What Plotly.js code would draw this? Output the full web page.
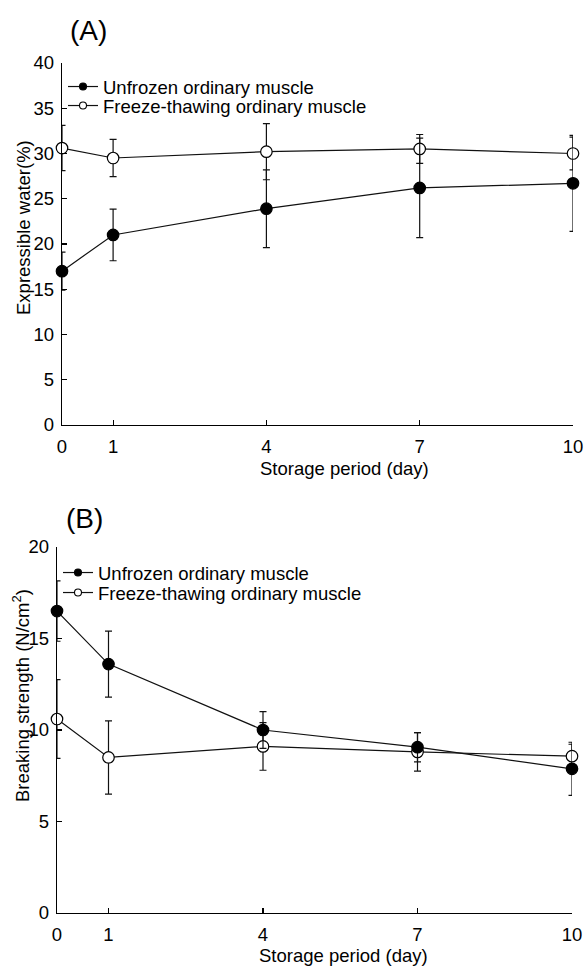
<!DOCTYPE html>
<html><head><meta charset="utf-8">
<script src="https://cdn.plot.ly/plotly-3.0.1.min.js"></script>
<style>html,body{margin:0;padding:0;background:#fff}</style>
</head><body><div id="chart" style="width:585px;height:966px"></div>
<script>
// ---- data ----
const days = [0, 1, 4, 7, 10];
const tickDays = [0, 1, 4, 7, 10];
const seriesNames = ['Unfrozen ordinary muscle', 'Freeze-thawing ordinary muscle'];
// (A) Expressible water (%)
const waterUnfrozen    = [17.0, 21.0, 23.9, 26.2, 26.7];
const waterUnfrozenErr = [2.1, 2.85, 4.3, 5.5, 5.3];
const waterFreeze      = [30.6, 29.5, 30.2, 30.5, 30.0];
const waterFreezeErr   = [2.5, 2.05, 3.1, 1.6, 1.8];
// (B) Breaking strength (N/cm2)
const strengthUnfrozen    = [16.5, 13.6, 10.0, 9.06, 7.88];
const strengthUnfrozenErr = [1.65, 1.8, 1.0, 0.8, 1.45];
const strengthFreeze      = [10.6, 8.5, 9.1, 8.8, 8.57];
const strengthFreezeErr   = [2.15, 2.0, 1.3, 1.05, 0.65];

// ---- style ----
const FONT = 'Liberation Sans, Arial, sans-serif';
const W = 585, H = 966;
const px = v => v / W, py = v => 1 - v / H;

function series(x, y, err, filled, xa, ya) {
  return {
    type: 'scatter', mode: 'lines+markers', x: x, y: y, xaxis: xa, yaxis: ya,
    showlegend: false, cliponaxis: false,
    line: {color: '#111', width: 1.2},
    marker: {size: 11.5, symbol: 'circle', color: filled ? '#000' : '#fff', line: {color: '#000', width: 1.2}},
    error_y: {type: 'data', array: err, visible: true, color: '#111', thickness: 1.2, width: 3.5}
  };
}
function legendItem(name, filled, xa, ya, lg) {
  return {
    type: 'scatter', mode: 'lines+markers', x: [null], y: [null], xaxis: xa, yaxis: ya,
    name: name, showlegend: true, legend: lg,
    line: {color: '#111', width: 1.2},
    marker: {size: 7, color: filled ? '#000' : '#fff', line: {color: '#000', width: 1.1}}
  };
}

const traces = [
  series(days, waterFreeze, waterFreezeErr, false, 'x', 'y'),
  series(days, waterUnfrozen, waterUnfrozenErr, true, 'x', 'y'),
  series(days, strengthFreeze, strengthFreezeErr, false, 'x2', 'y2'),
  series(days, strengthUnfrozen, strengthUnfrozenErr, true, 'x2', 'y2'),
  legendItem(seriesNames[0], true, 'x', 'y', 'legend'),
  legendItem(seriesNames[1], false, 'x', 'y', 'legend2'),
  legendItem(seriesNames[0], true, 'x2', 'y2', 'legend3'),
  legendItem(seriesNames[1], false, 'x2', 'y2', 'legend4')
];

const axBase = {
  showline: true, linecolor: '#000', linewidth: 1.2, showgrid: false, zeroline: false,
  ticks: 'inside', ticklen: 5, tickwidth: 1.2, tickcolor: '#000',
  tickfont: {family: FONT, size: 18.5, color: '#000'}, autorange: false, fixedrange: true
};
const xTicks = {tickmode: 'array', tickvals: tickDays, ticktext: tickDays.map(String), ticklabelstandoff: 5};

function leg(xPix, yPix) {
  return {x: px(xPix), y: py(yPix), xanchor: 'left', yanchor: 'middle',
    bgcolor: 'rgba(0,0,0,0)', borderwidth: 0, itemwidth: 30,
    font: {family: FONT, size: 18.5, color: '#000'}};
}

const layout = {
  width: W, height: H, margin: {l: 0, r: 0, t: 0, b: 0},
  paper_bgcolor: '#fff', plot_bgcolor: 'rgba(0,0,0,0)', showlegend: true,
  xaxis: Object.assign({}, axBase, xTicks, {domain: [px(62), px(573)], anchor: 'y', range: [0, 10]}),
  yaxis: Object.assign({}, axBase, {domain: [py(425), py(63)], anchor: 'x', range: [0, 40], dtick: 5, tick0: 0, ticklabelstandoff: 3}),
  xaxis2: Object.assign({}, axBase, xTicks, {domain: [px(57), px(572)], anchor: 'y2', range: [0, 10]}),
  yaxis2: Object.assign({}, axBase, {domain: [py(913), py(547)], anchor: 'x2', range: [0, 20], dtick: 5, tick0: 0, ticklabelstandoff: 3}),
  legend: leg(63, 87),
  legend2: leg(63, 106),
  legend3: leg(58, 573),
  legend4: leg(58, 593),
  annotations: [
    {text: '(A)', xref: 'paper', yref: 'paper', x: px(88), y: py(31), showarrow: false, xanchor: 'center', yanchor: 'middle', font: {family: FONT, size: 28, color: '#000'}},
    {text: '(B)', xref: 'paper', yref: 'paper', x: px(84), y: py(518), showarrow: false, xanchor: 'center', yanchor: 'middle', font: {family: FONT, size: 28, color: '#000'}},
    {text: 'Expressible water(%)', xref: 'paper', yref: 'paper', x: px(23), y: py(228), textangle: -90, showarrow: false, xanchor: 'center', yanchor: 'middle', font: {family: FONT, size: 18.5, color: '#000'}},
    {text: 'Breaking strength (N/cm<sup>2</sup>)', xref: 'paper', yref: 'paper', x: px(21), y: py(696), textangle: -90, showarrow: false, xanchor: 'center', yanchor: 'middle', font: {family: FONT, size: 18.5, color: '#000'}},
    {text: 'Storage period (day)', xref: 'paper', yref: 'paper', x: px(344), y: py(468), showarrow: false, xanchor: 'center', yanchor: 'middle', font: {family: FONT, size: 18.5, color: '#000'}},
    {text: 'Storage period (day)', xref: 'paper', yref: 'paper', x: px(343), y: py(955), showarrow: false, xanchor: 'center', yanchor: 'middle', font: {family: FONT, size: 18.5, color: '#000'}}
  ]
};

Plotly.newPlot('chart', traces, layout, {displayModeBar: false, staticPlot: true});
</script>
</body></html>
